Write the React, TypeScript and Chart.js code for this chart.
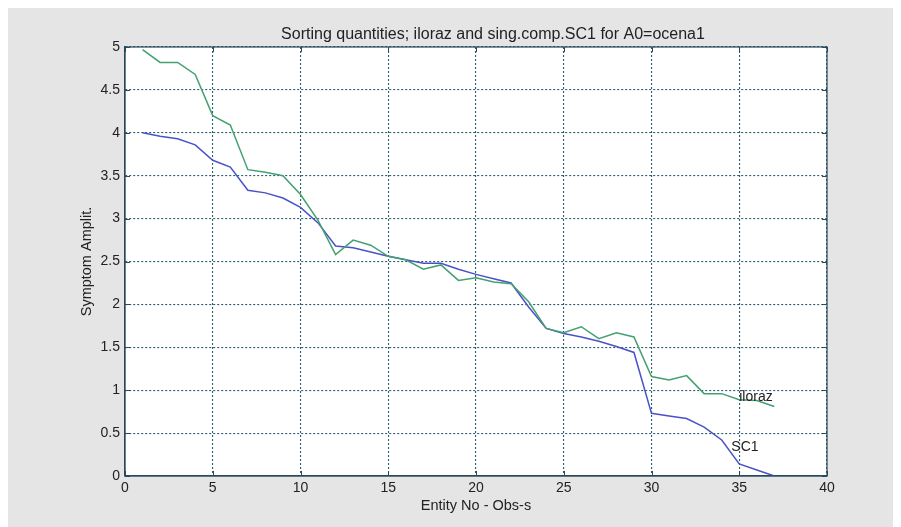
import React, { useEffect, useRef } from "react";
import { Chart, registerables } from "chart.js";

Chart.register(...registerables);

const entities = [1,2,3,4,5,6,7,8,9,10,11,12,13,14,15,16,17,18,19,20,21,22,23,24,25,26,27,28,29,30,31,32,33,34,35,36,37];
const iloraz = [4.97,4.82,4.82,4.68,4.2,4.09,3.57,3.54,3.5,3.28,2.98,2.58,2.75,2.69,2.56,2.52,2.41,2.46,2.28,2.31,2.26,2.24,2.03,1.72,1.67,1.74,1.6,1.67,1.62,1.16,1.12,1.17,0.96,0.96,0.89,0.88,0.81];
const sc1 = [4.0,3.96,3.93,3.86,3.68,3.6,3.33,3.3,3.24,3.13,2.95,2.68,2.66,2.61,2.56,2.52,2.48,2.48,2.41,2.35,2.3,2.25,1.97,1.72,1.66,1.62,1.57,1.51,1.44,0.73,0.7,0.67,0.57,0.42,0.14,0.07,0.0];
const xTicks = [0,5,10,15,20,25,30,35,40];
const yTicks = [0,0.5,1,1.5,2,2.5,3,3.5,4,4.5,5];
const titleText = "Sorting quantities; iloraz and sing.comp.SC1 for A0=ocena1";
const xLabel = "Entity No - Obs-s";
const yLabel = "Symptom Amplit.";
const annotations = [
  { text: "iloraz", x: 35.0, y: 0.92 },
  { text: "SC1", x: 34.55, y: 0.34 },
];

const FONT = "'Liberation Sans', Arial, sans-serif";
const AXIS = "#2a4a5c";
const GRID = "#2a5d72";
const TEXT = "#222222";

export default function App() {
  const ref = useRef<HTMLCanvasElement>(null);
  useEffect(() => {
    const decor = {
      id: "decor",
      beforeDraw(chart: any) {
        const { ctx, chartArea } = chart;
        ctx.save();
        ctx.fillStyle = "#e5e5e5";
        ctx.fillRect(0, 0, chart.width, chart.height);
        ctx.fillStyle = "#ffffff";
        ctx.fillRect(chartArea.left, chartArea.top, chartArea.right - chartArea.left, chartArea.bottom - chartArea.top);
        ctx.restore();
      },
      afterDraw(chart: any) {
        const { ctx, chartArea, scales } = chart;
        const { left, right, top, bottom } = chartArea;
        ctx.save();
        ctx.strokeStyle = AXIS;
        ctx.lineWidth = 1.2;
        ctx.strokeRect(left, top, right - left, bottom - top);
        ctx.lineWidth = 1;
        ctx.beginPath();
        for (const t of scales.x.ticks) {
          const px = Math.round(scales.x.getPixelForValue(t.value)) + 0.5;
          ctx.moveTo(px, bottom); ctx.lineTo(px, bottom - 5);
          ctx.moveTo(px, top); ctx.lineTo(px, top + 5);
        }
        for (const t of scales.y.ticks) {
          const py = Math.round(scales.y.getPixelForValue(t.value)) + 0.5;
          ctx.moveTo(left, py); ctx.lineTo(left + 5, py);
          ctx.moveTo(right, py); ctx.lineTo(right - 5, py);
        }
        ctx.stroke();
        ctx.fillStyle = TEXT;
        ctx.font = `16px ${FONT}`;
        ctx.textAlign = "center";
        ctx.textBaseline = "middle";
        ctx.fillText(titleText, (left + right) / 2 + 17, top - 12);
        ctx.font = `14px ${FONT}`;
        ctx.textAlign = "left";
        for (const a of annotations) {
          ctx.fillText(a.text, scales.x.getPixelForValue(a.x), scales.y.getPixelForValue(a.y));
        }
        ctx.restore();
      },
    };
    const chart = new Chart(ref.current!, {
      type: "line",
      data: {
        datasets: [
          {
            label: "iloraz",
            data: entities.map((x, i) => ({ x, y: iloraz[i] })),
            borderColor: "#44a070",
            borderWidth: 1.5,
            pointRadius: 0,
            tension: 0,
          },
          {
            label: "SC1",
            data: entities.map((x, i) => ({ x, y: sc1[i] })),
            borderColor: "#4a52c8",
            borderWidth: 1.5,
            pointRadius: 0,
            tension: 0,
          },
        ],
      },
      options: {
        animation: false,
        responsive: false,
        layout: { padding: { left: 0, right: 74, top: 41, bottom: 0 } },
        plugins: { legend: { display: false }, tooltip: { enabled: false }, title: { display: false } },
        scales: {
          x: {
            type: "linear",
            min: 0,
            max: 40,
            afterFit(s: any) { s.height = 51; },
            afterBuildTicks(s: any) { s.ticks = xTicks.map((v) => ({ value: v })); },
            border: { display: true, color: AXIS, width: 1.2, dash: [2, 2] },
            grid: { color: GRID, lineWidth: 1.1, drawTicks: false },
            ticks: { color: TEXT, font: { family: FONT, size: 14 }, padding: 4, maxRotation: 0, callback: (v: any) => String(v) },
            title: { display: true, text: xLabel, color: TEXT, font: { family: FONT, size: 14.5 }, padding: { top: 0, bottom: 12 } },
          },
          y: {
            type: "linear",
            min: 0,
            max: 5,
            afterFit(s: any) { s.width = 117; },
            afterBuildTicks(s: any) { s.ticks = yTicks.map((v) => ({ value: v })); },
            border: { display: true, color: AXIS, width: 1.2, dash: [2, 2] },
            grid: { color: GRID, lineWidth: 1.1, drawTicks: false },
            ticks: { color: TEXT, font: { family: FONT, size: 14 }, padding: 5, callback: (v: any) => String(v) },
            title: { display: true, text: yLabel, color: TEXT, font: { family: FONT, size: 14.5 }, padding: { top: 70, bottom: 0 } },
          },
        },
      },
      plugins: [decor],
    } as any);
    return () => chart.destroy();
  }, []);
  return (
    <div style={{ marginTop: -2, width: 893, height: 521 }}>
      <canvas ref={ref} width={893} height={521} style={{ display: "block", width: 893, height: 521 }} />
    </div>
  );
}
